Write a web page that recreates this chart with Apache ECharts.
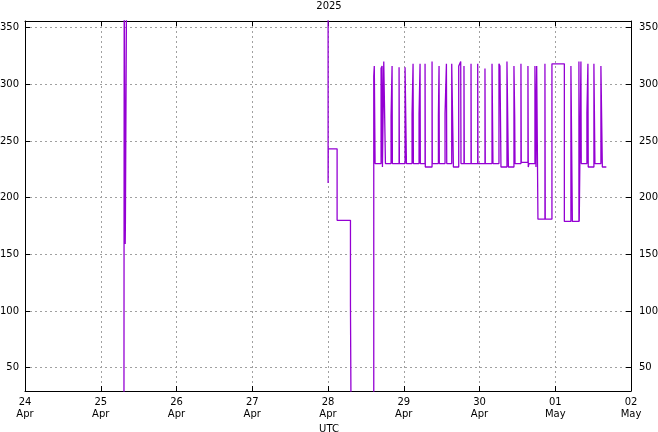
<!DOCTYPE html>
<html><head><meta charset="utf-8">
<script src="https://cdn.jsdelivr.net/npm/echarts@6/dist/echarts.min.js"></script>
<style>html,body{margin:0;padding:0;background:#fff}#c{width:658px;height:432px}</style>
</head><body><div id="c"></div>
<script>
// Sample times (UTC) and values; each value holds until the next time (step)
const times = [
 '2025-04-25T07:21','2025-04-25T07:26','2025-04-25T07:45','2025-04-25T07:49','2025-04-25T08:12',
 '2025-04-28T00:02','2025-04-28T00:05','2025-04-28T02:53','2025-04-28T07:07','2025-04-28T07:19',
 '2025-04-28T14:30','2025-04-28T14:40','2025-04-28T14:55','2025-04-28T16:49','2025-04-28T17:08',
 '2025-04-28T17:15','2025-04-28T17:40','2025-04-28T18:12','2025-04-28T19:59','2025-04-28T20:18',
 '2025-04-28T20:24','2025-04-28T22:31','2025-04-28T22:37','2025-04-29T00:25','2025-04-29T00:51',
 '2025-04-29T02:38','2025-04-29T02:57','2025-04-29T03:03','2025-04-29T04:51','2025-04-29T05:10',
 '2025-04-29T05:15','2025-04-29T06:45','2025-04-29T06:50','2025-04-29T08:58','2025-04-29T09:03',
 '2025-04-29T10:59','2025-04-29T11:11','2025-04-29T11:16','2025-04-29T13:05','2025-04-29T13:31',
 '2025-04-29T13:37','2025-04-29T15:12','2025-04-29T15:44','2025-04-29T17:25','2025-04-29T18:03',
 '2025-04-29T18:08','2025-04-29T19:05','2025-04-29T19:11','2025-04-29T21:19','2025-04-29T21:24',
 '2025-04-29T23:26','2025-04-29T23:31','2025-04-30T01:44','2025-04-30T01:50','2025-04-30T03:58',
 '2025-04-30T04:16','2025-04-30T06:10','2025-04-30T06:29','2025-04-30T06:48','2025-04-30T08:42',
 '2025-04-30T09:09','2025-04-30T10:55','2025-04-30T11:09','2025-04-30T11:15','2025-04-30T13:08',
 '2025-04-30T13:14','2025-04-30T15:21','2025-04-30T15:27','2025-04-30T15:40','2025-04-30T17:34',
 '2025-04-30T17:53','2025-04-30T18:07','2025-04-30T18:31','2025-04-30T20:44','2025-04-30T20:50',
 '2025-04-30T22:57','2025-05-01T02:53','2025-05-01T04:58','2025-05-01T05:25','2025-05-01T07:30',
 '2025-05-01T07:36','2025-05-01T08:08','2025-05-01T08:14','2025-05-01T10:02','2025-05-01T10:21',
 '2025-05-01T10:27','2025-05-01T12:15','2025-05-01T12:34','2025-05-01T14:28','2025-05-01T14:55',
 '2025-05-01T16:11'
];
const values = [
 0,400,159,180,400,
 213,243,180,105,0,
 307,316,230,314,316,
 227,320,230,272,316,
 230,315,230,315,230,
 274,318,230,274,318,
 230,318,227,320,230,
 272,316,230,274,318,
 230,318,227,316,320,
 230,316,230,318,230,
 318,230,314,230,318,
 230,318,316,227,320,
 227,316,271,230,318,
 231,316,227,230,316,
 227,316,181,318,181,
 318,179,316,179,320,
 179,320,230,275,318,
 227,318,230,316,227,
 227
];
const xStart = '2025-04-24T00:00';
const xEnd = '2025-05-02T00:00';
const yMin = 29.4, yMax = 355.8;
const monthNames = ['Jan','Feb','Mar','Apr','May','Jun','Jul','Aug','Sep','Oct','Nov','Dec'];

const toMs = s => Date.parse(s + ':00Z');
const DAY = 86400000;
const data = times.map((t, i) => [toMs(t), values[i]]);

const font = 'DejaVu Sans';
const xCommon = {
  type: 'value', min: toMs(xStart), max: toMs(xEnd), interval: DAY,
  axisLine: {show: true, lineStyle: {color: '#000', width: 1}},
  axisTick: {show: true, inside: true, length: 5, lineStyle: {color: '#000'}},
  splitLine: {show: false}
};
const yCommon = {
  type: 'value', min: yMin, max: yMax, splitNumber: 6,
  axisLine: {show: true, lineStyle: {color: '#000', width: 1}},
  axisTick: {show: true, inside: true, length: 5, lineStyle: {color: '#000'}},
  axisLabel: {showMinLabel: false, showMaxLabel: false, color: '#000', fontFamily: font, fontSize: 10}
};

const chart = echarts.init(document.getElementById('c'), null, {renderer: 'canvas'});
chart.setOption({
  animation: false,
  backgroundColor: '#fff',
  title: [
    {text: '2025', left: 'center', top: -4, textStyle: {fontFamily: font, fontSize: 10, fontWeight: 'normal', color: '#000'}},
    {text: 'UTC', left: 'center', top: 419, textStyle: {fontFamily: font, fontSize: 10, fontWeight: 'normal', color: '#000'}}
  ],
  grid: {left: 25, right: 27, top: 21, bottom: 41, containLabel: false, outerBoundsMode: 'none'},
  xAxis: [
    Object.assign({}, xCommon, {
      position: 'bottom',
      axisLabel: {
        color: '#000', fontFamily: font, fontSize: 10, lineHeight: 12, margin: 5,
        formatter: v => { const d = new Date(v); return String(d.getUTCDate()).padStart(2, '0') + '\n' + monthNames[d.getUTCMonth()]; }
      },
      splitLine: {show: true, lineStyle: {color: '#a0a0a0', type: [2, 3], width: 1}}
    }),
    Object.assign({}, xCommon, {position: 'top', axisLabel: {show: false}})
  ],
  yAxis: [
    Object.assign({}, yCommon, {
      position: 'left',
      axisLabel: Object.assign({}, yCommon.axisLabel, {margin: 6}),
      splitLine: {show: true, lineStyle: {color: '#a0a0a0', type: [2, 3], width: 1}}
    }),
    Object.assign({}, yCommon, {
      position: 'right',
      axisLabel: Object.assign({}, yCommon.axisLabel, {margin: 8}),
      splitLine: {show: false}
    })
  ],
  series: [{
    type: 'line', step: 'end', data: data, xAxisIndex: 0, yAxisIndex: 0,
    showSymbol: false, symbol: 'none', clip: true,
    lineStyle: {color: '#9400d3', width: 1.3}
  }]
});
</script></body></html>
